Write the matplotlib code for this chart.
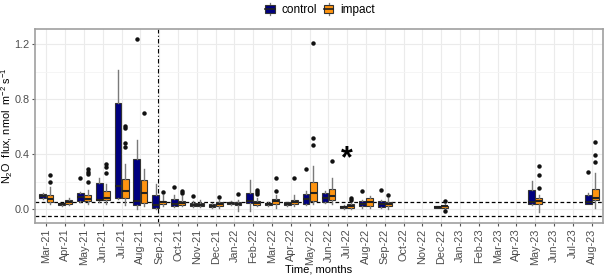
import matplotlib
matplotlib.use("Agg")
import matplotlib.pyplot as plt
from matplotlib.patches import Rectangle
from matplotlib.lines import Line2D
from matplotlib.legend_handler import HandlerBase
import numpy as np

plt.rcParams["font.family"] = ["Liberation Sans", "DejaVu Sans"]
plt.rcParams["mathtext.fontset"] = "custom"
plt.rcParams["mathtext.rm"] = "Liberation Sans"
plt.rcParams["mathtext.it"] = "Liberation Sans:italic"

months = ["Mar-21", "Apr-21", "May-21", "Jun-21", "Jul-21", "Aug-21", "Sep-21", "Oct-21",
          "Nov-21", "Dec-21", "Jan-22", "Feb-22", "Mar-22", "Apr-22", "May-22", "Jun-22",
          "Jul-22", "Aug-22", "Sep-22", "Oct-22", "Nov-22", "Dec-22", "Jan-23", "Feb-23",
          "Mar-23", "Apr-23", "May-23", "Jun-23", "Jul-23", "Aug-23"]

N = None
# control: whisker low, q1, median, q3, whisker high, outliers
ctrl_lo  = [0.075, 0.025, 0.055, 0.053, 0.073, 0.005, 0.005, 0.015, 0.015, 0.010, 0.030, -0.010, 0.025, 0.025, 0.030, 0.045, 0.003, 0.010, 0.008, N, N, 0.010, N, N, N, N, 0.030, N, N, 0.035]
ctrl_q1  = [0.082, 0.030, 0.060, 0.065, 0.082, 0.029, 0.012, 0.027, 0.020, 0.015, 0.036, 0.046, 0.030, 0.030, 0.041, 0.051, 0.007, 0.022, 0.017, N, N, 0.012, N, N, N, N, 0.036, N, N, 0.041]
ctrl_med = [0.097, 0.035, 0.090, 0.070, 0.172, 0.060, 0.034, 0.041, 0.030, 0.025, 0.043, 0.060, 0.038, 0.038, 0.078, 0.082, 0.015, 0.041, 0.035, N, N, 0.016, N, N, N, N, 0.049, N, N, 0.049]
ctrl_q3  = [0.114, 0.042, 0.121, 0.191, 0.776, 0.366, 0.100, 0.075, 0.044, 0.039, 0.053, 0.119, 0.046, 0.049, 0.114, 0.119, 0.027, 0.058, 0.058, N, N, 0.020, N, N, N, N, 0.138, N, N, 0.100]
ctrl_hi  = [0.120, 0.045, 0.125, 0.230, 1.010, 0.502, 0.187, 0.100, 0.060, 0.045, 0.058, 0.210, 0.050, 0.055, 0.133, 0.135, 0.030, 0.070, 0.070, N, N, 0.025, N, N, N, N, 0.206, N, N, 0.120]
ctrl_out = [[], [], [0.23], [], [], [1.24], [], [0.162], [0.095], [], [], [], [], [], [0.29], [], [], [0.131], [0.143], [], [], [], [], [], [], [], [], [], [], [0.271]]

imp_lo  = [0.036, 0.034, 0.036, 0.041, 0.030, 0.024, 0.020, 0.020, 0.015, 0.010, -0.012, 0.020, 0.010, 0.020, 0.035, 0.040, 0.003, 0.010, 0.005, N, N, -0.005, N, N, N, N, -0.020, N, N, 0.012]
imp_q1  = [0.049, 0.041, 0.058, 0.065, 0.082, 0.044, 0.036, 0.034, 0.020, 0.024, 0.029, 0.034, 0.039, 0.039, 0.060, 0.065, 0.007, 0.022, 0.024, N, N, 0.012, N, N, N, N, 0.041, N, N, 0.065]
imp_med = [0.078, 0.056, 0.073, 0.082, 0.133, 0.121, 0.049, 0.046, 0.030, 0.035, 0.040, 0.045, 0.063, 0.050, 0.121, 0.095, 0.020, 0.056, 0.036, N, N, 0.020, N, N, N, N, 0.063, N, N, 0.082]
imp_q3  = [0.107, 0.070, 0.107, 0.131, 0.220, 0.209, 0.063, 0.063, 0.045, 0.053, 0.053, 0.058, 0.078, 0.068, 0.200, 0.150, 0.036, 0.080, 0.053, N, N, 0.027, N, N, N, N, 0.080, N, N, 0.148]
imp_hi  = [0.162, 0.085, 0.138, 0.180, 0.332, 0.290, 0.100, 0.095, 0.070, 0.070, 0.070, 0.080, 0.100, 0.100, 0.313, 0.230, 0.050, 0.095, 0.080, N, N, 0.040, N, N, N, N, 0.100, N, N, 0.260]
imp_out = [[0.252, 0.199], [], [0.29, 0.27, 0.255, 0.20], [0.33, 0.31, 0.26], [0.606, 0.594, 0.48, 0.45],
           [0.70], [0.124], [0.133, 0.119], [], [0.09], [0.11], [0.14, 0.125, 0.11], [0.228, 0.13], [0.228],
           [1.21, 0.516, 0.47], [0.351], [0.085, 0.07], [], [0.107], [], [], [0.063, -0.015], [], [], [], [],
           [0.315, 0.252, 0.158], [], [], [0.49, 0.393, 0.34]]

groups = ["control", "impact"]
colors = {"control": "#00007F", "impact": "#FF9410"}


def make_stats(lo, q1, med, q3, hi, out):
    stats, pos = [], []
    for i in range(len(months)):
        if med[i] is None:
            continue
        stats.append(dict(whislo=lo[i], q1=q1[i], med=med[i], q3=q3[i], whishi=hi[i], fliers=out[i]))
        pos.append(i)
    return stats, np.array(pos, dtype=float)


class BoxKey:
    def __init__(self, color):
        self.color = color


class HandlerBoxKey(HandlerBase):
    def create_artists(self, legend, orig_handle, xdescent, ydescent, width, height, fontsize, trans):
        cx = -xdescent + width / 2
        bw = width * 0.8
        y0 = -ydescent + height * 0.18
        y1 = -ydescent + height * 0.82
        rect = Rectangle((cx - bw / 2, y0), bw, y1 - y0, facecolor=orig_handle.color,
                         edgecolor="#333333", linewidth=0.8, transform=trans)
        wl = Line2D([cx, cx], [-ydescent, y0], color="#7a7a7a", linewidth=0.9, transform=trans)
        wh = Line2D([cx, cx], [y1, -ydescent + height], color="#7a7a7a", linewidth=0.9, transform=trans)
        md = Line2D([cx - bw / 2, cx + bw / 2], [(y0 + y1) / 2] * 2, color="#222222",
                    linewidth=1.2, transform=trans)
        return [wl, wh, rect, md]


fig = plt.figure(figsize=(6.06, 2.77), dpi=100)
ax = fig.add_axes([0.058, 0.195, 0.937, 0.700])

offset = 0.19
width = 0.36
series = {
    "control": make_stats(ctrl_lo, ctrl_q1, ctrl_med, ctrl_q3, ctrl_hi, ctrl_out),
    "impact": make_stats(imp_lo, imp_q1, imp_med, imp_q3, imp_hi, imp_out),
}
for k, g in enumerate(groups):
    stats, pos = series[g]
    sh = -offset if k == 0 else offset
    ax.bxp(stats, positions=pos + sh, widths=width, patch_artist=True, showcaps=False,
           boxprops=dict(facecolor=colors[g], edgecolor="#333333", linewidth=0.8),
           medianprops=dict(color="#222222", linewidth=1.5),
           whiskerprops=dict(color="#7a7a7a", linewidth=1.0),
           flierprops=dict(marker="o", markersize=2.2, markerfacecolor="#111111",
                           markeredgecolor="#111111", linestyle="none"),
           manage_ticks=False, zorder=3)

ax.axhline(0.05, color="black", linestyle=(0, (3, 2)), linewidth=0.9, zorder=2)
ax.axhline(-0.05, color="black", linestyle=(0, (3, 2)), linewidth=0.9, zorder=2)
ax.axvline(5.95, color="black", linestyle=(0, (4, 2, 1, 2)), linewidth=0.8, zorder=2)

ax.text(months.index("Jul-22"), 0.36, "*", fontsize=22, fontweight="bold",
        ha="center", va="center", zorder=4)

ax.set_xlim(-0.6, len(months) - 0.4)
ax.set_ylim(-0.10, 1.31)
ax.set_xticks(range(len(months)))
ax.set_xticklabels(months, rotation=90, fontsize=7.8, color="#4D4D4D")
ax.set_yticks([0.0, 0.4, 0.8, 1.2])
ax.set_yticklabels(["0.0", "0.4", "0.8", "1.2"], fontsize=7.8, color="#4D4D4D")
ax.set_yticks([0.2, 0.6, 1.0], minor=True)
ax.tick_params(axis="both", which="major", length=2.5, color="#555555", pad=1.5)
ax.tick_params(axis="y", which="minor", length=0)

ax.grid(True, which="major", color="#EBEBEB", linewidth=0.8, zorder=0)
ax.grid(True, which="minor", axis="y", color="#F4F4F4", linewidth=0.6, zorder=0)
ax.set_axisbelow(True)
for s in ax.spines.values():
    s.set_color("#A0A0A0")
    s.set_linewidth(1.2)

ax.set_xlabel("Time, months", fontsize=8)
ax.xaxis.set_label_coords(0.5, -0.212)
ax.set_ylabel(r"N$_2$O  flux, nmol  m$^{-2}$ s$^{-1}$", fontsize=7.8)
ax.yaxis.set_label_coords(-0.036, 0.5)

handles = [BoxKey(colors[g]) for g in groups]
fig.legend(handles, groups, loc="upper center", bbox_to_anchor=(0.527, 1.012), ncol=2,
           frameon=False, fontsize=8.5, handlelength=1.0, handleheight=1.2,
           handletextpad=0.45, columnspacing=0.5, borderaxespad=0.1,
           handler_map={BoxKey: HandlerBoxKey()})

fig.savefig("out.png", dpi=100)
